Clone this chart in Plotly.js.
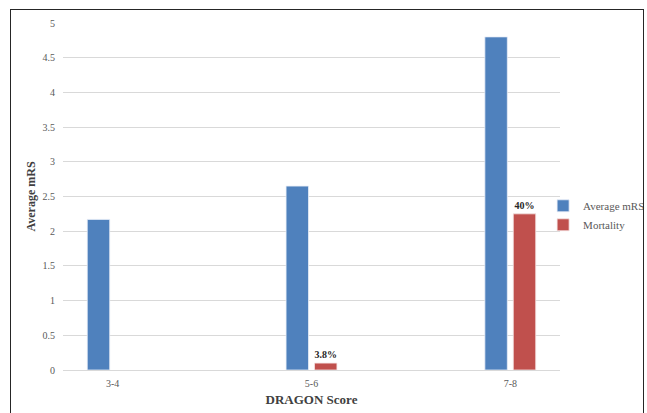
<!DOCTYPE html>
<html>
<head>
<meta charset="utf-8">
<script src="https://cdn.plot.ly/plotly-3.0.1.min.js"></script>
<style>
html,body{margin:0;padding:0;background:#fff;}
#wrap{position:relative;width:647px;height:413px;overflow:hidden;}
#chart{position:absolute;left:0;top:0;width:647px;height:413px;}
#frame{position:absolute;left:10px;top:9px;width:632px;height:420px;border:1.5px solid #262626;pointer-events:none;}
</style>
</head>
<body>
<div id="wrap"><div id="chart"></div><div id="frame"></div></div>
<script>
const categories = ['3-4', '5-6', '7-8'];
const avgMRS = [2.17, 2.65, 4.8];
const mortality = [null, 0.1, 2.25];
const mortalityLabels = ['', '3.8%', '40%'];
const yTicks = [0, 0.5, 1, 1.5, 2, 2.5, 3, 3.5, 4, 4.5, 5];
const yTickLabels = ['0', '0.5', '1', '1.5', '2', '2.5', '3', '3.5', '4', '4.5', '5'];

const serif = 'Liberation Serif';

const traces = [
  {
    type: 'bar', name: 'Average mRS', x: categories, y: avgMRS,
    marker: {color: '#4F81BD', line: {color: '#e8eef7', width: 0.8}},
    hoverinfo: 'none'
  },
  {
    type: 'bar', name: 'Mortality', x: categories, y: mortality,
    text: mortalityLabels, textposition: 'outside', cliponaxis: false,
    textfont: {family: serif, size: 10, color: '#262626', weight: 'bold'},
    marker: {color: '#C0504D', line: {color: '#f5e6e6', width: 0.8}},
    hoverinfo: 'none'
  }
];

const layout = {
  width: 647, height: 413,
  margin: {l: 63, r: 87, t: 22.5, b: 43, pad: 0, autoexpand: false},
  paper_bgcolor: '#fff', plot_bgcolor: '#fff',
  barmode: 'group', bargap: 0.714, bargroupgap: 0.21,
  showlegend: true,
  legend: {
    x: 0.966, y: 0.515, xanchor: 'left', yanchor: 'top',
    font: {family: serif, size: 11, color: '#595959'},
    itemwidth: 30, tracegroupgap: 4, bgcolor: 'rgba(0,0,0,0)'
  },
  xaxis: {
    type: 'category', range: [-0.25, 2.25],
    showgrid: false, zeroline: false, showline: false,
    ticks: '', ticklabelstandoff: 6, tickfont: {family: serif, size: 10, color: '#595959'},
    title: {text: 'DRAGON Score', font: {family: serif, size: 13, color: '#404040', weight: 'bold'}, standoff: 6}
  },
  yaxis: {
    range: [0, 5], tickvals: yTicks, ticktext: yTickLabels,
    showgrid: true, gridcolor: '#d9d9d9', gridwidth: 1,
    zeroline: true, zerolinecolor: '#d9d9d9', zerolinewidth: 1,
    showline: false, ticks: '', ticklabelstandoff: 7,
    tickfont: {family: serif, size: 10, color: '#595959'},
    title: {text: 'Average mRS', font: {family: serif, size: 12, color: '#404040', weight: 'bold'}, standoff: 4}
  },
  font: {family: serif}
};

Plotly.newPlot('chart', traces, layout, {displayModeBar: false, staticPlot: true});
</script>
</body>
</html>
